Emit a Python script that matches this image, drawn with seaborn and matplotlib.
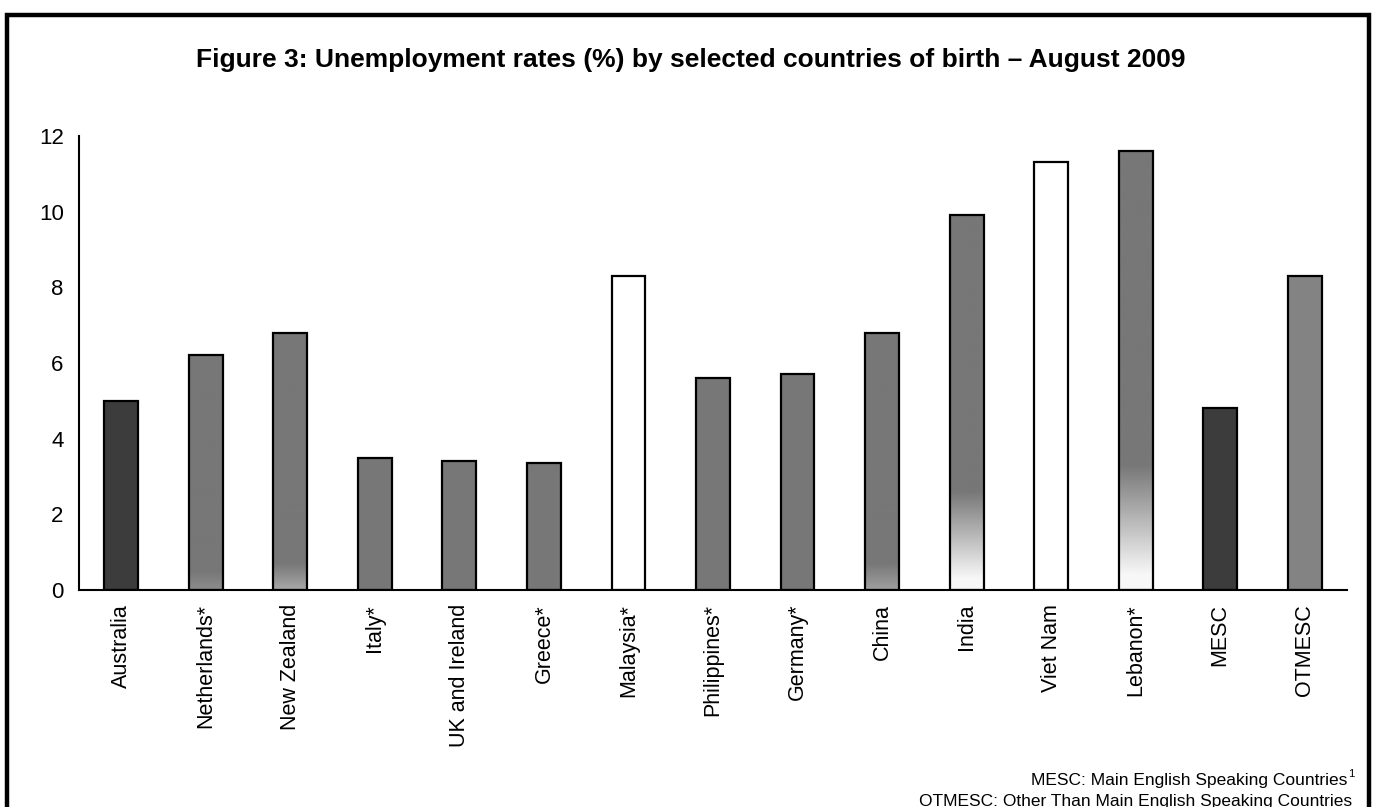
import numpy as np
import pandas as pd
import matplotlib
matplotlib.use("Agg")
import matplotlib.pyplot as plt
import seaborn as sns
from matplotlib.colors import LinearSegmentedColormap
from matplotlib.patches import Rectangle

categories = ["Australia", "Netherlands*", "New Zealand", "Italy*", "UK and Ireland",
              "Greece*", "Malaysia*", "Philippines*", "Germany*", "China", "India",
              "Viet Nam", "Lebanon*", "MESC", "OTMESC"]
rates = [5.0, 6.2, 6.8, 3.5, 3.4, 3.35, 8.3, 5.6, 5.7, 6.8, 9.9, 11.3, 11.6, 4.8, 8.3]
title = "Figure 3: Unemployment rates (%) by selected countries of birth \u2013 August 2009"
note1 = "MESC: Main English Speaking Countries"
note2 = "OTMESC: Other Than Main English Speaking Countries"

# styles
bar_colors = ["#3c3c3c", "#777777", "#777777", "#777777", "#777777", "#777777", "#ffffff",
              "#777777", "#777777", "#777777", "#777777", "#ffffff", "#777777", "#3c3c3c", "#838383"]
# bottom fade: (height where fade starts, height where it ends, bottom colour)
fades = {1: (0.5, 0.0, "#8c8c8c"), 2: (0.7, 0.0, "#a8a8a8"), 9: (0.7, 0.0, "#a0a0a0"),
         10: (2.6, 0.3, "#f7f7f7"), 12: (3.3, 0.4, "#f7f7f7")}

sns.set_style("white")
plt.rcParams["font.family"] = ["Liberation Sans", "DejaVu Sans"]
plt.rcParams["text.color"] = "black"
plt.rcParams["xtick.color"] = "black"
plt.rcParams["ytick.color"] = "black"

fig = plt.figure(figsize=(13.76, 8.07), dpi=100)
ax = fig.add_axes([79/1376, (807-590)/807, (1347-79)/1376, (590-136)/807])

df = pd.DataFrame({"country": categories, "rate": rates})
sns.barplot(data=df, x="country", y="rate", hue="country", palette=bar_colors,
            legend=False, width=0.4, edgecolor="black", linewidth=1.6, ax=ax, saturation=1)

for i, patch in enumerate(ax.patches):
    if i in fades:
        top_f, bot_f, bcol = fades[i]
        x0 = patch.get_x(); w = patch.get_width(); h = patch.get_height()
        ys = np.linspace(h, 0, 400)
        base = bar_colors[i]
        cmap = LinearSegmentedColormap.from_list("f", [bcol, base])
        t = np.clip((ys - bot_f) / max(top_f - bot_f, 1e-6), 0, 1)
        img = ax.imshow(t[:, None], extent=[x0, x0 + w, 0, h], cmap=cmap, vmin=0, vmax=1,
                        aspect="auto", zorder=patch.get_zorder() - 0.05, interpolation="bilinear")
        img.set_clip_path(patch)
        patch.set_facecolor("none")

ax.set_xlim(-0.5, 14.5)
ax.set_ylim(0, 12)
ax.set_yticks(np.arange(0, 13, 2))
ax.set_xticks(range(len(categories)))
ax.set_xticklabels(categories, rotation=90, fontsize=15.5)
ax.set_xticks(np.arange(-0.5, 15, 1), minor=True)
ax.tick_params(axis="x", which="major", length=0, pad=10)
ax.tick_params(axis="x", which="minor", length=6, width=1.5, direction="out", color="black")
ax.tick_params(axis="y", length=6, width=1.5, direction="out", color="black", labelsize=16, pad=5)
ax.set_xlabel("")
ax.set_ylabel("")
for s in ["top", "right"]:
    ax.spines[s].set_visible(False)
for s in ["left", "bottom"]:
    ax.spines[s].set_color("black")
    ax.spines[s].set_linewidth(1.5)

fig.text(691/1376, (807-67)/807, title, ha="center", va="baseline", fontsize=19, fontweight="bold")
fig.text(1347/1376, (807-785)/807, note1, ha="right", va="baseline", fontsize=12.5)
fig.text(1348/1376, (807-777)/807, "1", ha="left", va="baseline", fontsize=8)
fig.text(1352/1376, (807-806)/807, note2, ha="right", va="baseline", fontsize=12.5)

fig.add_artist(Rectangle((7/1376, -0.1), (1369-7)/1376, 1.1 - 15/807, transform=fig.transFigure,
                         fill=False, edgecolor="black", linewidth=3.2, clip_on=False))

fig.savefig("out.png", dpi=100)
